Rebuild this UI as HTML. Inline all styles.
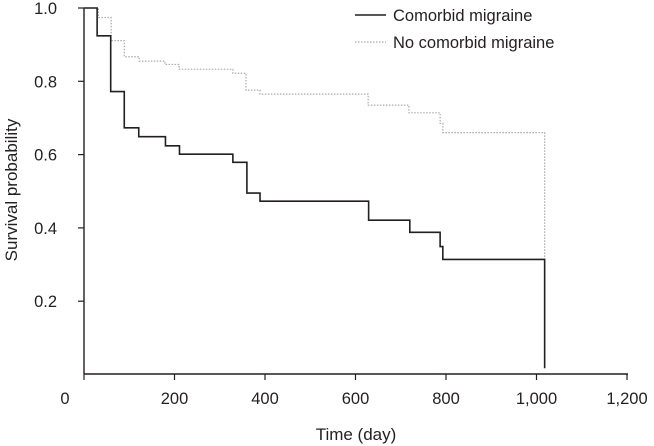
<!DOCTYPE html>
<html><head><meta charset="utf-8"><style>
body{margin:0;background:#fff;}
svg{display:block;font-family:"Liberation Sans",Arial,sans-serif;}
</style></head><body>
<svg id="chart" width="654" height="446" viewBox="0 0 654 446">
<g id="axes"></g>
<g id="series"></g>
<g>
<line x1="355" y1="15" x2="386" y2="15" stroke="#231f20" stroke-width="1.6"/>
<text x="393" y="21" font-size="16.5" fill="#231f20">Comorbid migraine</text>
<line x1="355" y1="42" x2="386" y2="42" stroke="#aaa" stroke-width="1.2" stroke-dasharray="1.5,1.5"/>
<text x="393" y="48" font-size="16.5" fill="#231f20">No comorbid migraine</text>
</g>
<text transform="translate(17,190) rotate(-90)" text-anchor="middle" font-size="17" fill="#231f20">Survival probability</text>
<text x="356" y="440" text-anchor="middle" font-size="17" fill="#231f20">Time (day)</text>
</svg>
<script>
const xTicks=[0,200,400,600,800,1000,1200];
const xTickLabels=["0","200","400","600","800","1,000","1,200"];
const yTicks=[0.2,0.4,0.6,0.8,1.0];
const yTickLabels=["0.2","0.4","0.6","0.8","1.0"];
const comorbidTimes=[0,29,59,89,121,180,211,329,360,389,629,720,787,793,1018];
const comorbidSurv=[1.0,0.924,0.772,0.673,0.649,0.624,0.601,0.579,0.495,0.473,0.421,0.388,0.349,0.314,0.017];
const noComorbidTimes=[0,32,60,89,122,179,210,329,358,389,628,718,787,793,1018];
const noComorbidSurv=[1.0,0.974,0.911,0.867,0.855,0.846,0.833,0.822,0.776,0.765,0.735,0.714,0.685,0.660,0.314];

const NS="http://www.w3.org/2000/svg";
const X=d=>84+d*0.4525;
const Y=v=>374.5-v*366.5;
function mk(tag,attrs,parent){const e=document.createElementNS(NS,tag);for(const k in attrs)e.setAttribute(k,attrs[k]);parent.appendChild(e);return e;}
const axes=document.getElementById('axes');
const series=document.getElementById('series');
let a=mk('line',{x1:84,y1:Y(1.0),x2:84,y2:374,stroke:'#231f20','stroke-width':1.4},axes);


a=mk('line',{x1:84,y1:374,x2:X(1200)+1,y2:374,stroke:'#231f20','stroke-width':1.4},axes);


xTicks.forEach((t,i)=>{
  const tk=mk('line',{x1:X(t),y1:374,x2:X(t),y2:380,stroke:'#231f20','stroke-width':1.2},axes);
  
  
  const lx=t===0?65:X(t);
  const tx=mk('text',{x:lx,y:404,'text-anchor':'middle','font-size':16.5,fill:'#231f20'},axes);
  tx.textContent=xTickLabels[i];
  
  
});
yTicks.forEach((t,i)=>{
  const tk=mk('line',{x1:78,y1:Y(t),x2:84,y2:Y(t),stroke:'#231f20','stroke-width':1.2},axes);
  
  
  const tx=mk('text',{x:57,y:Y(t)+6,'text-anchor':'end','font-size':16.5,fill:'#231f20'},axes);
  tx.textContent=yTickLabels[i];
  
  
});
function stepPath(ts,vs){
  let d='M'+X(ts[0])+','+Y(vs[0]);
  for(let i=1;i<ts.length;i++){d+=' H'+X(ts[i])+' V'+Y(vs[i]);}
  return d;
}
const p2=mk('path',{d:stepPath(noComorbidTimes,noComorbidSurv),fill:'none',stroke:'#aaa','stroke-width':1.2,'stroke-dasharray':'1.5,1.5'},series);


const p1=mk('path',{d:stepPath(comorbidTimes,comorbidSurv),fill:'none',stroke:'#231f20','stroke-width':1.6},series);


</script>
</body></html>
